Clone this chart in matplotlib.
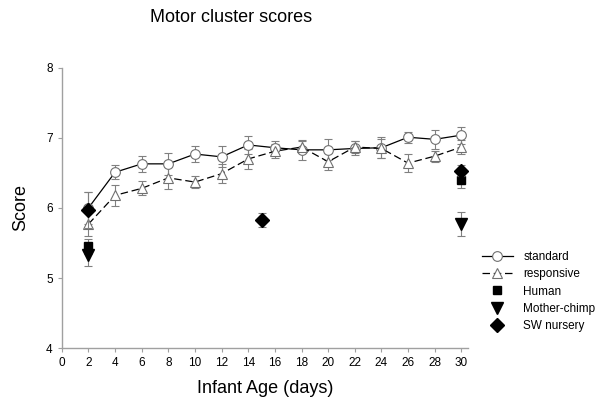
import matplotlib
matplotlib.use("Agg")
import matplotlib.pyplot as plt
from matplotlib.lines import Line2D

plt.rcParams['font.family'] = ['Liberation Sans', 'DejaVu Sans']

days = [2, 4, 6, 8, 10, 12, 14, 16, 18, 20, 22, 24, 26, 28, 30]
standard = [6.00, 6.51, 6.63, 6.63, 6.77, 6.73, 6.90, 6.86, 6.83, 6.83, 6.85, 6.86, 7.01, 6.98, 7.04]
standard_err = [0.23, 0.10, 0.11, 0.16, 0.12, 0.15, 0.13, 0.10, 0.14, 0.15, 0.10, 0.15, 0.08, 0.14, 0.12]
responsive = [5.77, 6.18, 6.28, 6.43, 6.37, 6.49, 6.70, 6.81, 6.87, 6.66, 6.87, 6.85, 6.64, 6.74, 6.87]
responsive_err = [0.17, 0.15, 0.10, 0.16, 0.09, 0.14, 0.14, 0.10, 0.09, 0.12, 0.09, 0.14, 0.13, 0.08, 0.10]

human_x = [2, 30]
human = [5.45, 6.40]
human_err = [0.10, 0.12]
chimp_x = [2, 30]
chimp = [5.33, 5.77]
chimp_err = [0.16, 0.17]
nursery_x = [2, 15, 30]
nursery = [5.97, 5.83, 6.53]
nursery_err = [0.26, 0.10, 0.08]

fig = plt.figure(figsize=(6.0, 4.09), dpi=100)
ax = fig.add_axes([0.103, 0.149, 0.677, 0.685])

ecol = '#808080'
ax.errorbar(days, standard, yerr=standard_err, color='black', lw=0.9, ls='-',
            marker='o', ms=7, mfc='white', mec='#707070', mew=0.8,
            ecolor=ecol, elinewidth=0.8, capsize=3, capthick=0.8, label='standard', zorder=3)
ax.errorbar(days, responsive, yerr=responsive_err, color='black', lw=0.9, ls=(0, (6, 3)),
            marker='^', ms=7, mfc='white', mec='#707070', mew=0.8,
            ecolor=ecol, elinewidth=0.8, capsize=3, capthick=0.8, label='responsive', zorder=3)
ax.errorbar(human_x, human, yerr=human_err, ls='none', marker='s', ms=6, color='black',
            ecolor=ecol, elinewidth=0.8, capsize=3, capthick=0.8, label='Human', zorder=4)
ax.errorbar(chimp_x, chimp, yerr=chimp_err, ls='none', marker='v', ms=9, color='black',
            ecolor=ecol, elinewidth=0.8, capsize=3, capthick=0.8, label='Mother-chimp', zorder=4)
ax.errorbar(nursery_x, nursery, yerr=nursery_err, ls='none', marker='D', ms=7, color='black',
            ecolor=ecol, elinewidth=0.8, capsize=3, capthick=0.8, label='SW nursery', zorder=5)

ax.set_xlim(0, 30.5)
ax.set_ylim(4, 8)
ax.set_xticks(range(0, 31, 2))
ax.set_yticks([4, 5, 6, 7, 8])
for s in ['top', 'right']:
    ax.spines[s].set_visible(False)
for s in ['left', 'bottom']:
    ax.spines[s].set_color('#a0a0a0')
    ax.spines[s].set_linewidth(1.0)
ax.tick_params(axis='both', colors='#a0a0a0', labelcolor='black', labelsize=8.5, length=3, width=0.8)

ax.set_xlabel('Infant Age (days)', fontsize=13, labelpad=8)
ax.set_ylabel('Score', fontsize=13, labelpad=12)
fig.text(231/600, 1 - 17/409, 'Motor cluster scores', fontsize=13, ha='center', va='center')

handles = [
    Line2D([], [], color='black', lw=0.9, marker='o', ms=7, mfc='white', mec='#707070', mew=0.8),
    Line2D([], [], color='black', lw=0.9, ls=(0, (6, 3)), marker='^', ms=7, mfc='white', mec='#707070', mew=0.8),
    Line2D([], [], ls='none', marker='s', ms=6, color='black'),
    Line2D([], [], ls='none', marker='v', ms=9, color='black'),
    Line2D([], [], ls='none', marker='D', ms=7, color='black'),
]
labels = ['standard', 'responsive', 'Human', 'Mother-chimp', 'SW nursery']
fig.legend(handles, labels, loc='upper left', bbox_to_anchor=(482/600, 1 - 251/409),
           frameon=False, fontsize=8.5, handlelength=2.6, labelspacing=0.45, handletextpad=0.9,
           borderaxespad=0, borderpad=0)

fig.savefig('out.png', dpi=100)
